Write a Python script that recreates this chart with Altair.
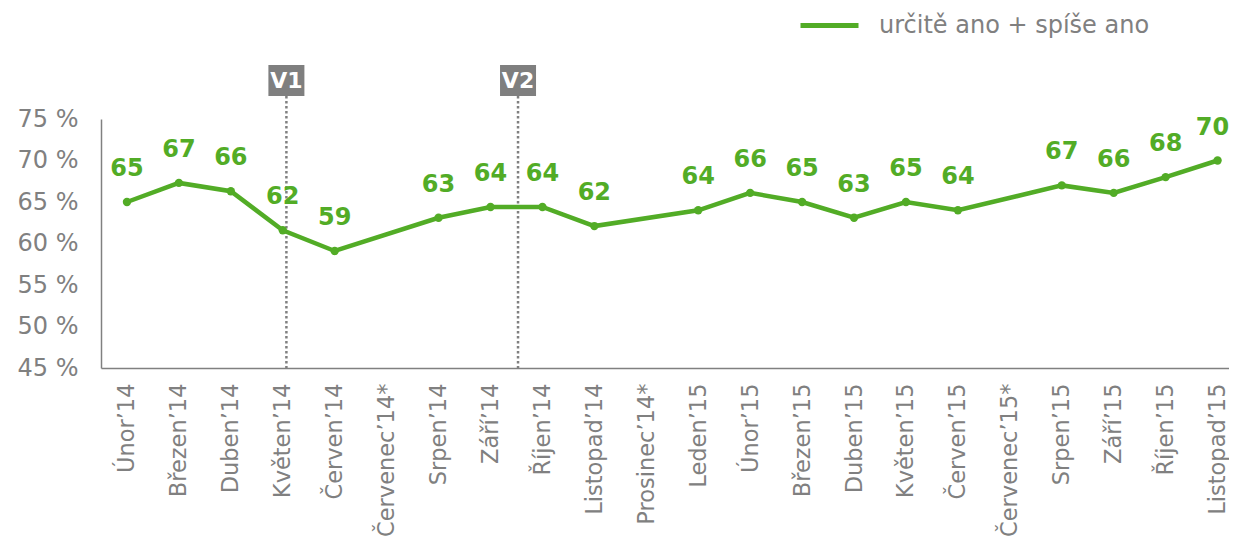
import json
import altair as alt
import pandas as pd

months = ["Únor’14", "Březen’14", "Duben’14", "Květen’14", "Červen’14", "Červenec’14*",
          "Srpen’14", "Září’14", "Říjen’14", "Listopad’14", "Prosinec’14*", "Leden’15",
          "Únor’15", "Březen’15", "Duben’15", "Květen’15", "Červen’15", "Červenec’15*",
          "Srpen’15", "Září’15", "Říjen’15", "Listopad’15"]
values = [65.0, 67.3, 66.3, 61.6, 59.1, None, 63.1, 64.4, 64.4, 62.1, None, 64.0,
          66.1, 65.0, 63.1, 65.0, 64.0, None, 67.0, 66.1, 68.0, 70.0]
series_name = "určitě ano + spíše ano"
wave_labels = ["V1", "V2"]
wave_positions = [3.07, 7.53]
y_ticks = [45, 50, 55, 60, 65, 70, 75]

GREEN = "#52ac26"
GREY = "#808080"
FONT = "DejaVu Sans"

df = pd.DataFrame({"idx": list(range(len(months))), "month": months, "value": values})
df = df.dropna().reset_index(drop=True)
df["series"] = series_name
waves = pd.DataFrame({"pos": wave_positions, "label": wave_labels})

x_enc = alt.X(
    "idx:Q",
    scale=alt.Scale(domain=[-0.5, 21.22], nice=False, zero=False),
    axis=alt.Axis(
        values=list(range(len(months))),
        labelExpr=json.dumps(months, ensure_ascii=False) + "[datum.value]",
        labelAngle=-90, ticks=False, grid=False, domainColor=GREY, domainWidth=1.5,
        labelColor=GREY, labelFontSize=22.5, labelFont=FONT, labelPadding=15,
        labelFlush=False, labelOverlap=False, labelBound=False, title=None,
    ),
)
y_enc = alt.Y(
    "value:Q",
    scale=alt.Scale(domain=[45, 75], nice=False, zero=False),
    axis=alt.Axis(
        values=y_ticks, labelExpr="datum.value + ' %'", ticks=False, grid=False,
        domainColor=GREY, domainWidth=1.5, labelColor=GREY, labelFontSize=24,
        labelFont=FONT, labelPadding=23, title=None,
    ),
)

base = alt.Chart(df)

line = base.mark_line(strokeWidth=4.5).encode(
    x=x_enc, y=y_enc,
    color=alt.Color(
        "series:N",
        scale=alt.Scale(range=[GREEN]),
        legend=alt.Legend(
            orient="none", legendX=697, legendY=-125, title=None,
            symbolType="stroke", symbolSize=3364, symbolStrokeWidth=5,
            labelFontSize=24, labelColor=GREY, labelFont=FONT, labelOffset=18,
            labelLimit=600,
        ),
    ),
)
points = base.mark_circle(size=70, opacity=1, color=GREEN).encode(x="idx:Q", y="value:Q")
labels = base.transform_calculate(
    lx="min(datum.idx, 20.9)"
).mark_text(
    dy=-33, fontWeight="bold", fontSize=24, color=GREEN, font=FONT, baseline="middle"
).encode(x="lx:Q", y="value:Q", text=alt.Text("value:Q", format=".0f"))

wbase = alt.Chart(waves)
vlines = wbase.mark_rule(strokeDash=[2.5, 2.5], strokeWidth=2.5, color=GREY).encode(
    x="pos:Q", y=alt.value(-23), y2=alt.value(249)
)
boxes = wbase.mark_rect(width=36, color="#7f7f7f").encode(
    x="pos:Q", y=alt.value(-54), y2=alt.value(-23)
)
box_text = wbase.mark_text(
    color="white", fontWeight="bold", fontSize=22, font=FONT, baseline="middle"
).encode(x="pos:Q", y=alt.value(-38), text="label:N")

chart = alt.layer(vlines, line, points, labels, boxes, box_text).properties(
    width=1128, height=249,
    autosize="none",
    padding={"left": 93, "top": 111, "right": 0, "bottom": 169},
).configure(font=FONT).configure_view(stroke=None)

chart.save("out.html", embed_options={"renderer": "svg", "actions": False})
